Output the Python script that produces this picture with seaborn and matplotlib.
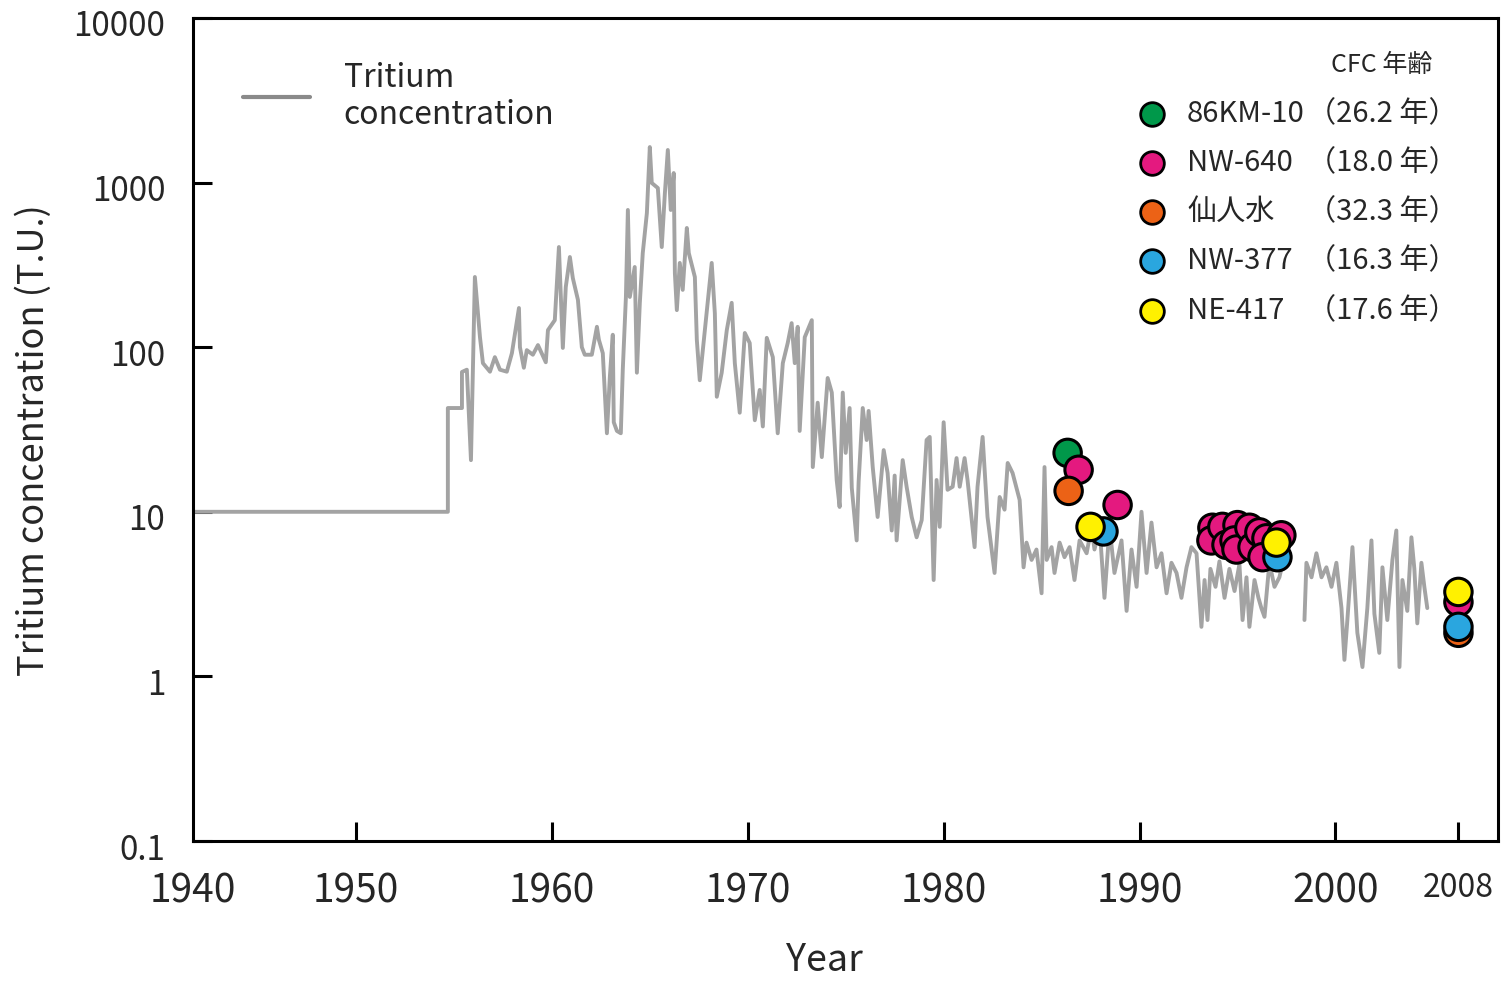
import numpy as np
import pandas as pd
import matplotlib
matplotlib.use("Agg")
import matplotlib.pyplot as plt
import matplotlib.transforms as mtransforms
from matplotlib.lines import Line2D
import seaborn as sns

sns.set_theme(style="white")
plt.rcParams['font.family'] = ['Noto Sans CJK JP', 'DejaVu Sans']

# tritium concentration in precipitation (T.U.)
# part 1: up to 1997
trit_year_1 = [1941.68, 1954.69, 1954.69, 1955.41, 1955.41, 1955.66, 1955.87, 1956.07, 1956.33, 1956.48,
               1956.84, 1957.09, 1957.35, 1957.70, 1957.96, 1958.32, 1958.37, 1958.57, 1958.72, 1959.03,
               1959.29, 1959.69, 1959.80, 1960.15, 1960.36, 1960.56, 1960.71, 1960.92, 1961.07, 1961.33,
               1961.53, 1961.68, 1962.04, 1962.30, 1962.40, 1962.60, 1962.81, 1962.96, 1963.11, 1963.16,
               1963.32, 1963.52, 1963.62, 1963.78, 1963.88, 1963.98, 1964.23, 1964.34, 1964.49, 1964.64,
               1964.85, 1965.00, 1965.10, 1965.41, 1965.61, 1965.77, 1965.92, 1966.07, 1966.22, 1966.28,
               1966.38, 1966.53, 1966.68, 1966.89, 1966.99, 1967.30, 1967.40, 1967.55, 1967.81, 1968.16,
               1968.32, 1968.42, 1968.67, 1968.93, 1969.18, 1969.34, 1969.59, 1969.85, 1970.10, 1970.36,
               1970.61, 1970.77, 1970.97, 1971.28, 1971.53, 1971.79, 1972.04, 1972.24, 1972.40, 1972.55,
               1972.65, 1972.91, 1973.27, 1973.32, 1973.57, 1973.78, 1974.08, 1974.29, 1974.54, 1974.69,
               1974.85, 1975.00, 1975.20, 1975.31, 1975.56, 1975.66, 1975.87, 1976.07, 1976.17, 1976.38,
               1976.63, 1976.94, 1977.14, 1977.35, 1977.50, 1977.60, 1977.91, 1978.11, 1978.37, 1978.62,
               1978.88, 1979.13, 1979.29, 1979.49, 1979.64, 1979.80, 1980.00, 1980.20, 1980.46, 1980.66,
               1980.82, 1981.07, 1981.22, 1981.58, 1981.73, 1981.99, 1982.24, 1982.60, 1982.86, 1983.11,
               1983.27, 1983.52, 1983.88, 1984.08, 1984.23, 1984.49, 1984.74, 1985.00, 1985.15, 1985.26,
               1985.51, 1985.66, 1985.92, 1986.17, 1986.43, 1986.68, 1986.94, 1987.30, 1987.55, 1987.70,
               1987.96, 1988.21, 1988.47, 1988.72, 1989.08, 1989.34, 1989.59, 1989.85, 1990.10, 1990.36,
               1990.61, 1990.87, 1991.12, 1991.38, 1991.63, 1991.89, 1992.14, 1992.40, 1992.65, 1992.91,
               1993.16, 1993.32, 1993.47, 1993.62, 1993.88, 1994.08, 1994.34, 1994.59, 1994.85, 1995.10,
               1995.26, 1995.46, 1995.61, 1995.87, 1996.07, 1996.22, 1996.38, 1996.63, 1996.89, 1997.14,
               1997.24]
trit_tu_1 = [10, 10, 42.7, 42.7, 70.7, 73, 20.6, 267, 115, 80,
             71, 87, 73, 71, 92, 173, 100, 75, 96, 90,
             103, 81, 127, 146, 406, 99, 232, 353, 263, 194,
             100, 90, 90, 133, 111, 92, 30, 66, 119, 35,
             31, 30, 73, 202, 682, 202, 307, 70, 186, 373,
             653, 1644, 995, 927, 406, 865, 1578, 682, 1143, 282,
             168, 325, 223, 530, 373, 267, 111, 63, 127, 325,
             161, 50, 70, 127, 186, 80, 40, 122, 106, 36,
             55, 33, 114, 87, 30, 80, 106, 140, 80, 133,
             31, 115, 146, 18.7, 46, 21.5, 65, 53, 15.6, 10.7,
             53, 22.8, 42.7, 14, 6.7, 15.2, 42.7, 27.3, 41, 18.7,
             9.3, 23.7, 17.2, 7.7, 16.6, 6.7, 20.6, 14.2, 9.3, 7.0,
             8.9, 27.3, 28.5, 3.85, 15.6, 8.1, 35, 13.6, 14.2, 21.2,
             14.2, 21.2, 15.6, 6.1, 14.2, 28.5, 9.3, 4.25, 12.3, 10.3,
             19.8, 17.2, 11.8, 4.6, 6.5, 5.1, 5.9, 3.2, 18.7, 5.1,
             6.1, 4.25, 6.5, 5.3, 6.1, 3.85, 6.7, 5.6, 8.1, 5.9,
             8.1, 3.0, 8.1, 4.25, 6.7, 2.5, 5.9, 3.5, 10, 4.25,
             8.6, 4.6, 5.6, 3.2, 4.9, 4.25, 3.0, 4.6, 6.1, 5.6,
             2.0, 3.85, 2.2, 4.5, 3.5, 5.0, 3.0, 4.5, 3.3, 4.8,
             2.2, 4.0, 2.0, 3.85, 3.0, 2.6, 2.3, 4.9, 3.5, 4.0,
             4.5]
# part 2: 1998 onwards
trit_year_2 = [1998.42, 1998.52, 1998.78, 1999.03, 1999.29, 1999.54, 1999.80, 2000.05, 2000.31, 2000.46,
               2000.61, 2000.87, 2001.12, 2001.38, 2001.63, 2001.84, 2001.99, 2002.24, 2002.40, 2002.65,
               2002.91, 2003.11, 2003.27, 2003.42, 2003.67, 2003.88, 2004.03, 2004.18, 2004.39, 2004.54,
               2004.69]
trit_tu_2 = [2.2, 4.9, 4.0, 5.6, 4.0, 4.6, 3.5, 4.9, 2.6, 1.26,
             2.2, 6.1, 1.84, 1.14, 2.6, 6.7, 2.4, 1.39, 4.6, 2.2,
             5.1, 7.7, 1.14, 3.85, 2.5, 7.0, 4.5, 2.1, 4.9, 3.5,
             2.6]

# groundwater samples
sample_names = ["86KM-10", "NW-640", "仙人水", "NW-377", "NE-417"]
cfc_ages = ["26.2", "18.0", "32.3", "16.3", "17.6"]
sample_colors = ["#00984a", "#e4197f", "#ec6216", "#2aa6df", "#fff100"]

km10_year = [1986.33]
km10_tu = [22.8]
nw640_year = [1986.89, 1988.88, 1993.72, 1993.67, 1994.23, 1994.44, 1995.00, 1994.85, 1994.95,
              1995.61, 1995.77, 1996.12, 1996.48, 1996.28, 1997.24, 2006.28]
nw640_tu = [18.0, 11.0, 8.0, 6.7, 8.1, 6.3, 8.3, 6.7, 5.9,
            8.0, 6.1, 7.5, 6.9, 5.3, 7.2, 2.83]
sennin_year = [1986.38, 2006.28]
sennin_tu = [13.4, 1.84]
nw377_year = [1988.16, 1997.04, 2006.28]
nw377_tu = [7.6, 5.3, 2.0]
ne417_year = [1987.50, 1996.99, 2006.28]
ne417_tu = [8.1, 6.5, 3.26]

year_labels = ["1940", "1950", "1960", "1970", "1980", "1990", "2000", "2008"]
tu_labels = ["0.1", "1", "10", "100", "1000", "10000"]

trit = pd.concat([
    pd.DataFrame({"year": trit_year_1, "tu": trit_tu_1, "seg": 1}),
    pd.DataFrame({"year": trit_year_2, "tu": trit_tu_2, "seg": 2}),
])
samples = pd.concat([
    pd.DataFrame({"year": y, "tu": v, "sample": n})
    for n, y, v in zip(sample_names,
                       [km10_year, nw640_year, sennin_year, nw377_year, ne417_year],
                       [km10_tu, nw640_tu, sennin_tu, nw377_tu, ne417_tu])
], ignore_index=True)
pal = dict(zip(sample_names, sample_colors))

fig = plt.figure(figsize=(15.01, 9.82), dpi=100)
ax = fig.add_axes([193 / 1501, 1 - 841 / 982, 1305 / 1501, 823 / 982])

sns.lineplot(data=trit, x="year", y="tu", units="seg", estimator=None, sort=False,
             color="#a3a3a3", lw=2.8, ax=ax, legend=False)
sns.scatterplot(data=samples, x="year", y="tu", hue="sample", palette=pal, s=390,
                edgecolor="black", linewidth=2.2, legend=False, ax=ax, zorder=3)

ax.set_yscale("log")
ax.set_ylim(0.1, 10000)
ax.set_xlim(1941.68, 2008.3)
ax.set_yticks([0.1, 1, 10, 100, 1000, 10000])
ax.set_yticklabels(tu_labels, fontsize=24)
ax.yaxis.set_minor_locator(matplotlib.ticker.NullLocator())
ax.set_xticks([1941.68, 1950, 1960, 1970, 1980, 1990, 2000, 2006.28])
ax.set_xticklabels(year_labels, fontsize=28)
ax.tick_params(direction="in", length=14, width=2.2, color="black", bottom=True, left=True)
ax.tick_params(axis="x", pad=22)
ax.tick_params(axis="y", pad=20)
xt = ax.xaxis.get_major_ticks()
xt[0].tick1line.set_visible(False)
xt[-1].tick1line.set_color("#e60012")
xt[-1].label1.set_fontsize(23)
shift = mtransforms.ScaledTranslation(0, -5 / 100, fig.dpi_scale_trans)
for lab in ax.get_yticklabels():
    lab.set_transform(lab.get_transform() + shift)
for sp in ax.spines.values():
    sp.set_color("black")
    sp.set_linewidth(2.2)

ax.set_xlabel("Year", fontsize=27)
ax.xaxis.set_label_coords(0.484, -0.121)
ax.set_ylabel("Tritium concentration (T.U.)", fontsize=26)
ax.yaxis.set_label_coords(-0.108, 0.487)

# legend for the tritium line
h = Line2D([], [], color="#8a8a8a", lw=3)
ax.legend(handles=[h], labels=["Tritium\nconcentration"], loc="upper left",
          bbox_to_anchor=(0.0383, 0.947), frameon=False, fontsize=23,
          handlelength=2.1, handletextpad=1.05, borderpad=0, borderaxespad=0,
          labelspacing=0.2)

# sample key with CFC ages
ax.text(0.9111, 0.9429, "CFC 年齢", transform=ax.transAxes, fontsize=18,
        ha="center", va="center")
rows = [0.8834, 0.8238, 0.7643, 0.7047, 0.6440]
for n, a, c, yy in zip(sample_names, cfc_ages, sample_colors, rows):
    ax.scatter([0.7349], [yy], s=290, color=c, edgecolor="black", linewidth=2,
               transform=ax.transAxes, zorder=4, clip_on=False)
    ax.text(0.7617, yy, n, transform=ax.transAxes, fontsize=21, va="center")
    ax.text(0.8535, yy, "（" + a + " 年）", transform=ax.transAxes, fontsize=21, va="center")

fig.savefig("out.png", dpi=100)
